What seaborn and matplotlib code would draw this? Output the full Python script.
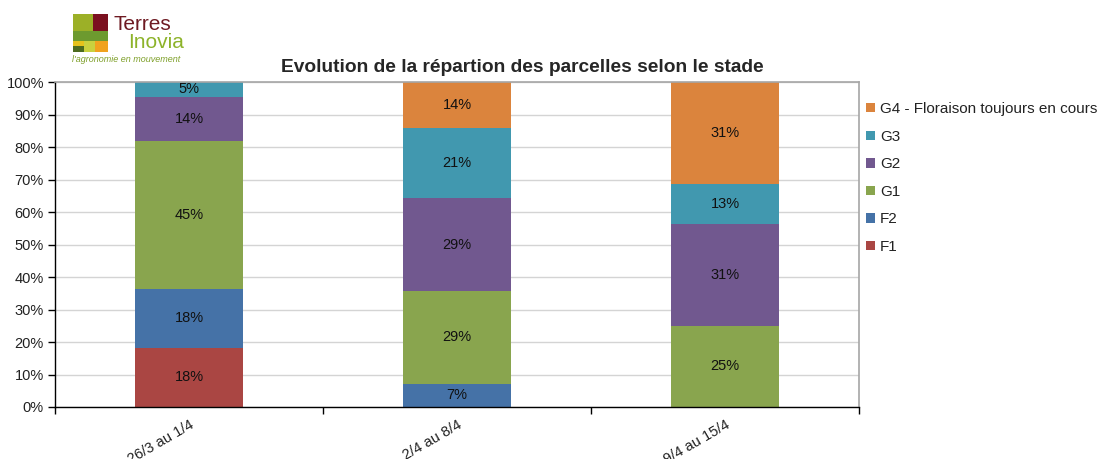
import numpy as np
import pandas as pd
import matplotlib
matplotlib.use("Agg")
import matplotlib.pyplot as plt
from matplotlib.patches import Rectangle, Patch
from matplotlib.ticker import FixedLocator, PercentFormatter
import seaborn as sns

# Weekly periods and share of plots (%) at each growth stage
periods = ["26/3 au 1/4", "2/4 au 8/4", "9/4 au 15/4"]
stages = ["F1", "F2", "G1", "G2", "G3", "G4 - Floraison toujours en cours"]
f1 = [18.18, 0.0, 0.0]
f2 = [18.18, 7.14, 0.0]
g1 = [45.45, 28.57, 25.0]
g2 = [13.64, 28.57, 31.25]
g3 = [4.55, 21.43, 12.5]
g4 = [0.0, 14.29, 31.25]
yticks = [0, 10, 20, 30, 40, 50, 60, 70, 80, 90, 100]

colors = ["#AA4643", "#4572A7", "#89A54E", "#71588F", "#4198AF", "#DB843D"]

sns.set_theme(style="white")
plt.rcParams["font.family"] = ["Liberation Sans", "DejaVu Sans"]

W, H = 1102, 459
fig = plt.figure(figsize=(W / 100, H / 100), dpi=100)
ax = fig.add_axes([55 / W, 1 - 407 / H, (859 - 55) / W, (407 - 82) / H])

series = [f1, f2, g1, g2, g3, g4]
bottom = np.zeros(len(periods))
for vals, col in zip(series, colors):
    df = pd.DataFrame({"period": periods, "share": vals})
    sns.barplot(data=df, x="period", y="share", color=col, width=0.4,
                bottom=bottom.copy(), saturation=1, linewidth=0, ax=ax,
                order=periods)
    bottom += np.array(vals)


def pct(v):
    # round half up, as a spreadsheet would
    return f"{int(v + 0.5)}%"


for cont, vals in zip(ax.containers, series):
    labels = [pct(v) if v > 0 else "" for v in vals]
    ax.bar_label(cont, labels=labels, label_type="center", fontsize=10.5,
                 color="#111111")

ax.set_ylim(0, 100)
ax.set_xlim(-0.5, 2.5)
ax.yaxis.set_major_locator(FixedLocator(yticks))
ax.yaxis.set_major_formatter(PercentFormatter(decimals=0))
ax.grid(axis="y", color="#d4d4d4", linewidth=1)
ax.set_axisbelow(True)
ax.set_xlabel("")
ax.set_ylabel("")

for side in ["left", "bottom"]:
    ax.spines[side].set_color("black")
    ax.spines[side].set_linewidth(1)
for side in ["top", "right"]:
    ax.spines[side].set_color("#a6a6a6")
    ax.spines[side].set_linewidth(1.2)

ax.tick_params(axis="y", left=True, length=5, width=1, color="black",
               labelsize=10.5, labelcolor="#222222", pad=3)
ax.set_xticks(range(len(periods)))
ax.set_xticklabels(periods, rotation=30, ha="right", rotation_mode="anchor",
                   fontsize=10.5, color="#222222")
ax.tick_params(axis="x", which="major", bottom=False, length=0, pad=8)
ax.xaxis.set_minor_locator(FixedLocator([-0.5, 0.5, 1.5, 2.5]))
ax.tick_params(axis="x", which="minor", bottom=True, length=5, width=1,
               color="black")

ax.set_title("Evolution de la répartion des parcelles selon le stade",
             fontsize=13.8, fontweight="bold", pad=7, x=(522 - 55) / (859 - 55))

handles = [Patch(facecolor=c, edgecolor="none") for c in colors][::-1]
fig.legend(handles, stages[::-1], loc="upper left",
           bbox_to_anchor=(860 / W, 1 - 96 / H), frameon=False, fontsize=11,
           handlelength=0.55, handleheight=0.55, handletextpad=0.35,
           labelspacing=0.89, borderaxespad=0, labelcolor="#222222")

# Logo block
lax = fig.add_axes([0, 0, 1, 1], zorder=-1)
lax.set_xlim(0, W)
lax.set_ylim(H, 0)
lax.axis("off")
blocks = [
    (73, 14, 20, 17, "#9CB027"),
    (93, 14, 15, 17, "#7B1120"),
    (73, 31, 35, 10, "#6D9A2F"),
    (73, 41, 11, 5, "#E5C21C"),
    (73, 46, 11, 6, "#4C6B1F"),
    (84, 41, 11, 11, "#C9D13E"),
    (95, 41, 13, 11, "#F0A21E"),
]
for x0, y0, w, h, c in blocks:
    lax.add_patch(Rectangle((x0, y0), w, h, facecolor=c, edgecolor="none"))
lax.text(113, 25, "Terres", fontsize=15, color="#6E1A22", va="center",
         ha="left")
lax.text(128, 43, "Inovia", fontsize=15, color="#8DB32A", va="center",
         ha="left")
lax.text(72, 60, "l'agronomie en mouvement", fontsize=6.5, color="#7FA02A",
         va="center", ha="left", style="italic")

fig.savefig("out.png", dpi=100, facecolor="white")
